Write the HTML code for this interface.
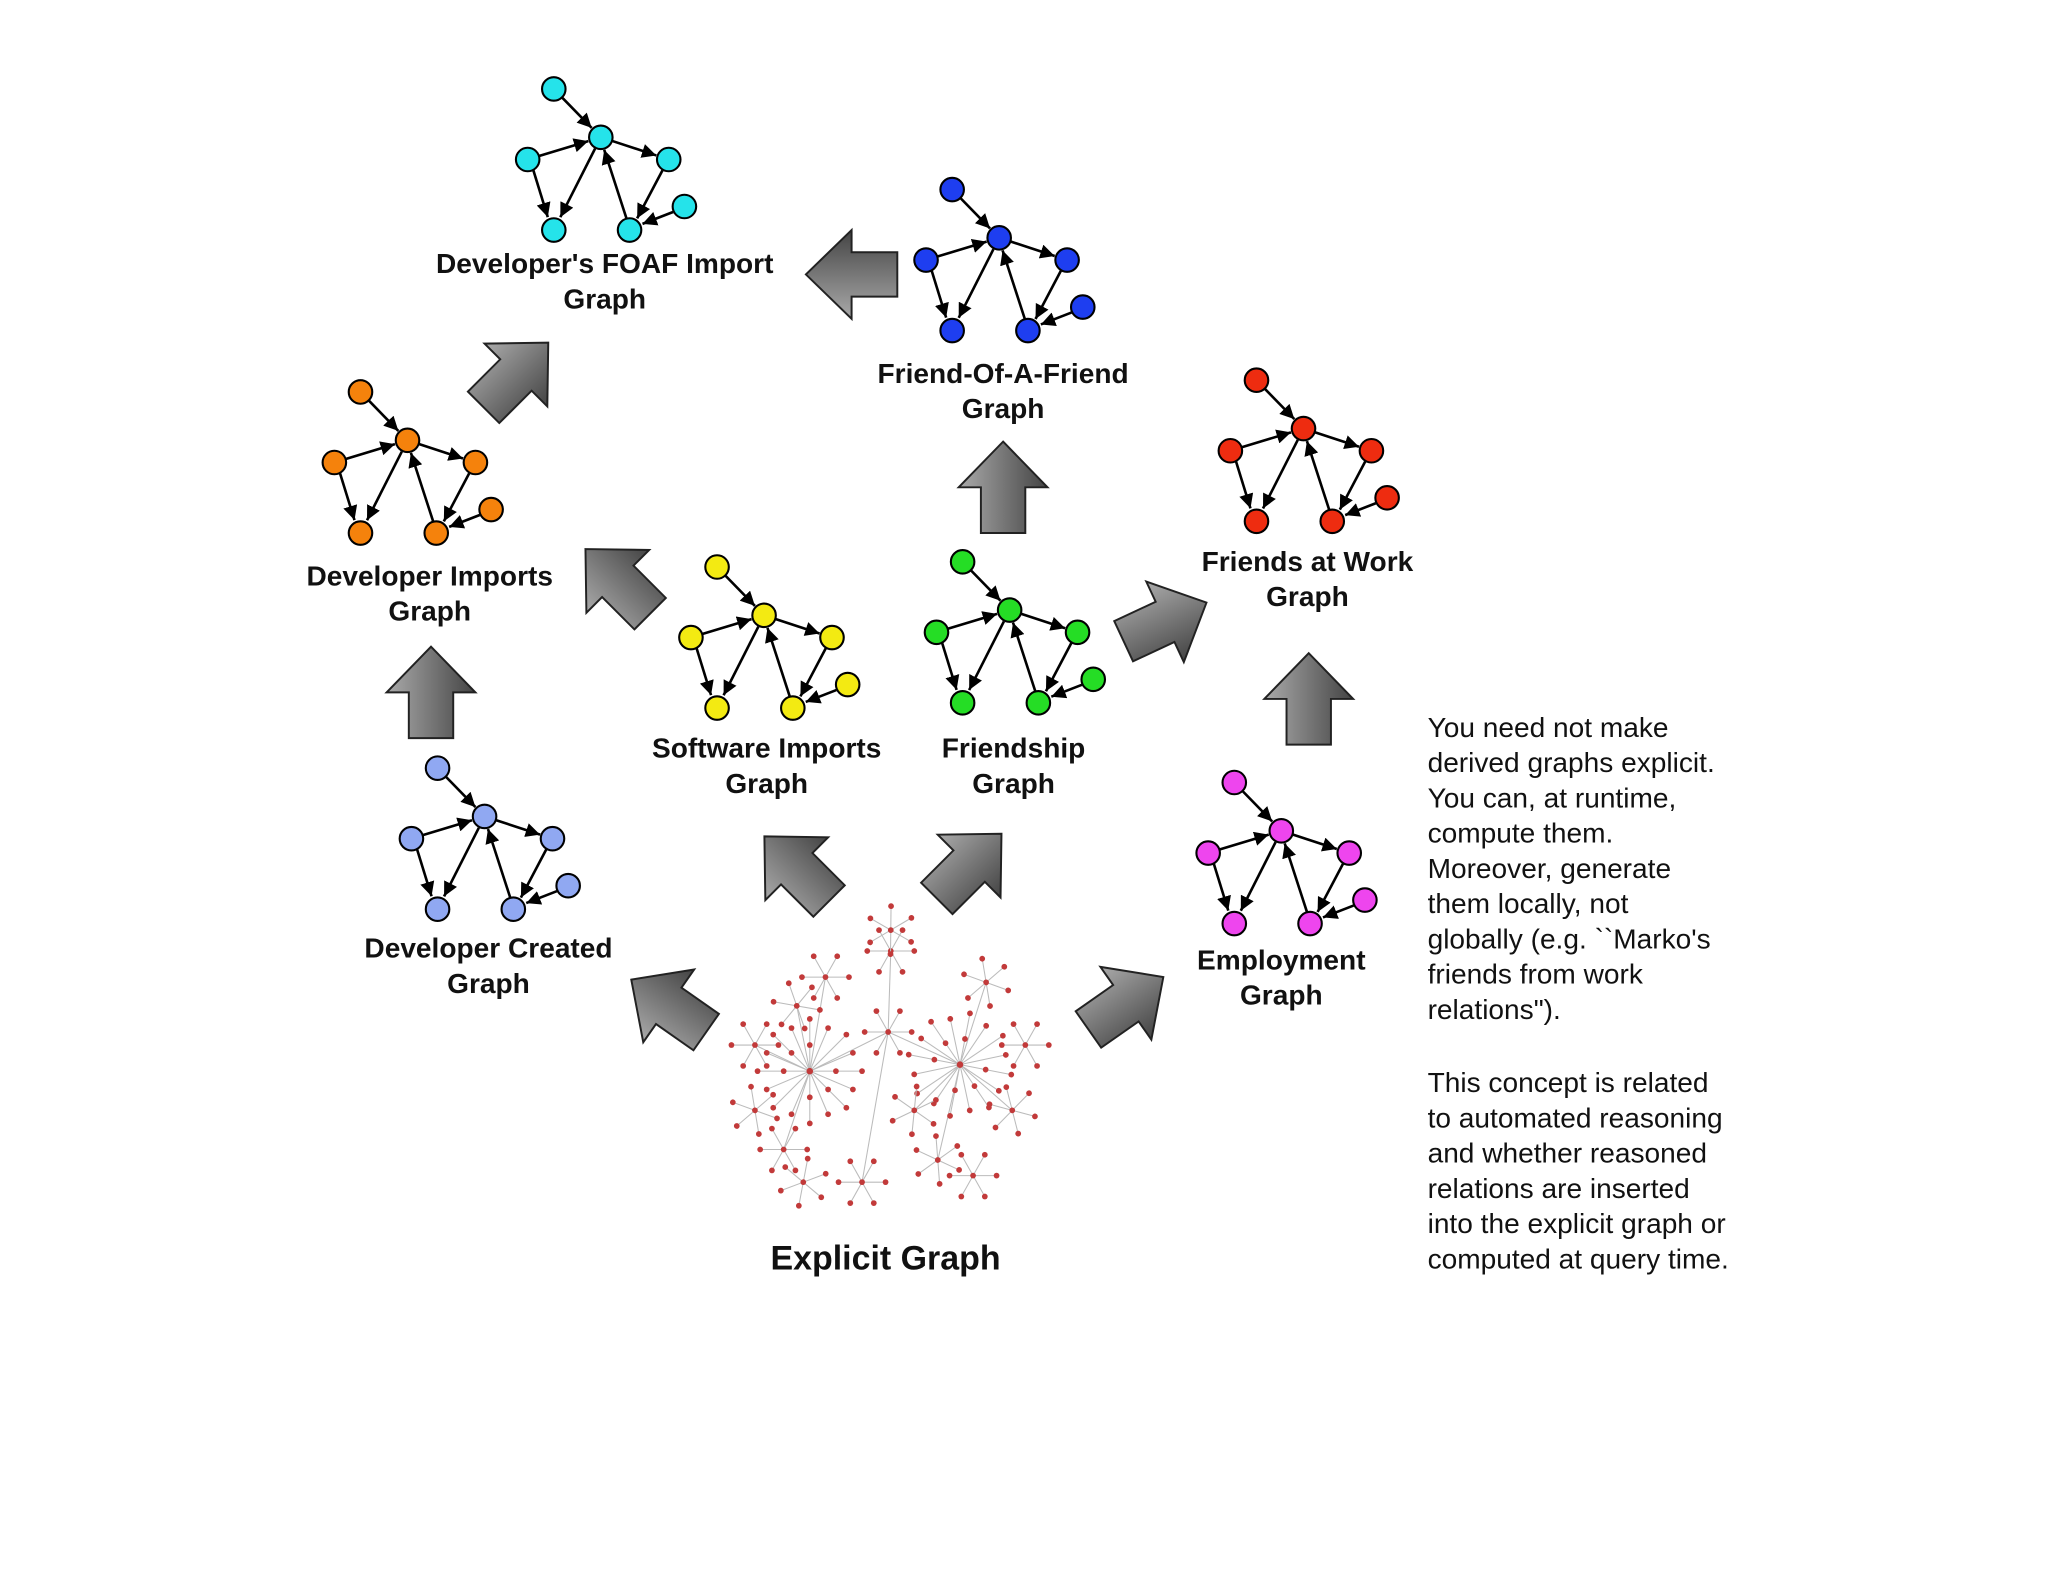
<!DOCTYPE html>
<html><head><meta charset="utf-8"><style>
html,body{margin:0;padding:0;background:#fff}
svg{display:block}
text{font-family:"Liberation Sans",Arial,sans-serif}
</style></head><body>
<svg width="2048" height="1582" viewBox="0 0 1568 1211" xmlns="http://www.w3.org/2000/svg">
<defs>
<marker id="ah" viewBox="0 0 10 10" refX="10" refY="5" markerWidth="5.5" markerHeight="5.5" orient="auto"><path d="M0,0 L10,5 L0,10 z" fill="#000"/></marker>
<linearGradient id="gg" x1="0" y1="0" x2="1" y2="0"><stop offset="0" stop-color="#aaa"/><stop offset="0.5" stop-color="#777"/><stop offset="1" stop-color="#444"/></linearGradient>
<g id="arr"><path d="M0,-35 L34,0 L17,0 L17,35 L-17,35 L-17,0 L-34,0 Z" fill="url(#gg)" stroke="#222" stroke-width="1.5"/></g>
<g id="sg">
<g stroke="#000" stroke-width="2" marker-end="url(#ah)">
<line x1="-29.7" y1="-30.5" x2="-7" y2="-7.2"/>
<line x1="-47.3" y1="14.3" x2="-9.6" y2="2.9"/>
<line x1="8.7" y1="2.8" x2="42.5" y2="13.9"/>
<line x1="-4.4" y1="8.7" x2="-31" y2="61.2"/>
<line x1="-51.7" y1="25.1" x2="-40.6" y2="61.1"/>
<line x1="19.7" y1="62.3" x2="2.6" y2="9.6"/>
<line x1="47.2" y1="25.3" x2="27.8" y2="62.1"/>
<line x1="55.3" y1="57.2" x2="31.9" y2="66.3"/>
</g>
<g stroke="#000" stroke-width="1.6">
<circle cx="-36" cy="-37" r="9"/><circle cx="0" cy="0" r="9"/><circle cx="-56" cy="17" r="9"/><circle cx="52" cy="17" r="9"/><circle cx="-36" cy="71" r="9"/><circle cx="22" cy="71" r="9"/><circle cx="64" cy="53" r="9"/>
</g>
</g>
<g id="bs">
<g stroke="#bbb" stroke-width="0.8">
<line x1="0" y1="0" x2="40" y2="0"/><line x1="0" y1="0" x2="33" y2="14"/><line x1="0" y1="0" x2="28" y2="28"/><line x1="0" y1="0" x2="14" y2="33"/><line x1="0" y1="0" x2="0" y2="40"/><line x1="0" y1="0" x2="-14" y2="33"/><line x1="0" y1="0" x2="-28" y2="28"/><line x1="0" y1="0" x2="-33" y2="14"/><line x1="0" y1="0" x2="-40" y2="0"/><line x1="0" y1="0" x2="-33" y2="-14"/><line x1="0" y1="0" x2="-28" y2="-28"/><line x1="0" y1="0" x2="-14" y2="-33"/><line x1="0" y1="0" x2="0" y2="-40"/><line x1="0" y1="0" x2="14" y2="-33"/><line x1="0" y1="0" x2="28" y2="-28"/><line x1="0" y1="0" x2="33" y2="-14"/>
</g>
<g fill="#c23a3a">
<circle cx="40" cy="0" r="2.2"/><circle cx="33" cy="14" r="2.2"/><circle cx="28" cy="28" r="2.2"/><circle cx="14" cy="33" r="2.2"/><circle cx="0" cy="40" r="2.2"/><circle cx="-14" cy="33" r="2.2"/><circle cx="-28" cy="28" r="2.2"/><circle cx="-33" cy="14" r="2.2"/><circle cx="-40" cy="0" r="2.2"/><circle cx="-33" cy="-14" r="2.2"/><circle cx="-28" cy="-28" r="2.2"/><circle cx="-14" cy="-33" r="2.2"/><circle cx="0" cy="-40" r="2.2"/><circle cx="14" cy="-33" r="2.2"/><circle cx="28" cy="-28" r="2.2"/><circle cx="33" cy="-14" r="2.2"/>
<circle cx="20" cy="0" r="2.2"/><circle cx="0" cy="20" r="2.2"/><circle cx="-20" cy="0" r="2.2"/><circle cx="0" cy="-20" r="2.2"/><circle cx="14" cy="14" r="2.2"/><circle cx="-14" cy="-14" r="2.2"/><circle cx="0" cy="0" r="2.5"/>
</g>
</g>
<g id="ss">
<g stroke="#bbb" stroke-width="0.8">
<line x1="0" y1="0" x2="18" y2="0"/><line x1="0" y1="0" x2="9" y2="16"/><line x1="0" y1="0" x2="-9" y2="16"/><line x1="0" y1="0" x2="-18" y2="0"/><line x1="0" y1="0" x2="-9" y2="-16"/><line x1="0" y1="0" x2="9" y2="-16"/>
</g>
<g fill="#c23a3a">
<circle cx="18" cy="0" r="2.2"/><circle cx="9" cy="16" r="2.2"/><circle cx="-9" cy="16" r="2.2"/><circle cx="-18" cy="0" r="2.2"/><circle cx="-9" cy="-16" r="2.2"/><circle cx="9" cy="-16" r="2.2"/><circle cx="0" cy="0" r="2.2"/>
</g>
</g>
</defs>
<rect width="1568" height="1211" fill="#fff"/>
<use href="#sg" transform="translate(460,105)" fill="#25e3ea"/>
<use href="#sg" transform="translate(765,182)" fill="#1e3ef0"/>
<use href="#sg" transform="translate(312,337)" fill="#f5820c"/>
<use href="#sg" transform="translate(585,471)" fill="#f3ea12"/>
<use href="#sg" transform="translate(773,467)" fill="#25dd25"/>
<use href="#sg" transform="translate(998,328)" fill="#ee2c10"/>
<use href="#sg" transform="translate(371,625)" fill="#90a8f2"/>
<use href="#sg" transform="translate(981,636)" fill="#ee45ee"/>
<g stroke="#bbb" stroke-width="0.8">
<line x1="620" y1="820" x2="680" y2="790"/><line x1="735" y1="815" x2="680" y2="790"/><line x1="680" y1="790" x2="682" y2="728"/><line x1="620" y1="820" x2="600" y2="880"/><line x1="735" y1="815" x2="718" y2="888"/><line x1="620" y1="820" x2="632" y2="748"/><line x1="735" y1="815" x2="755" y2="752"/><line x1="620" y1="820" x2="578" y2="800"/><line x1="735" y1="815" x2="775" y2="850"/><line x1="680" y1="790" x2="660" y2="905"/><line x1="620" y1="820" x2="610" y2="770"/><line x1="735" y1="815" x2="700" y2="850"/>
</g>
<use href="#bs" transform="translate(620,820)"/>
<use href="#bs" transform="translate(735,815) rotate(11)"/>
<use href="#ss" transform="translate(680,790)"/>
<use href="#ss" transform="translate(682,728)"/>
<use href="#ss" transform="translate(682,712) rotate(30)"/>
<use href="#ss" transform="translate(632,748)"/>
<use href="#ss" transform="translate(755,752) rotate(20)"/>
<use href="#ss" transform="translate(600,880)"/>
<use href="#ss" transform="translate(718,888) rotate(25)"/>
<use href="#ss" transform="translate(578,800)"/>
<use href="#ss" transform="translate(775,850) rotate(15)"/>
<use href="#ss" transform="translate(660,905)"/>
<use href="#ss" transform="translate(700,850) rotate(35)"/>
<use href="#ss" transform="translate(610,770) rotate(10)"/>
<use href="#ss" transform="translate(615,905) rotate(40)"/>
<use href="#ss" transform="translate(745,900)"/>
<use href="#ss" transform="translate(578,850) rotate(20)"/>
<use href="#ss" transform="translate(785,800)"/>
<g font-weight="bold" font-size="21.5" text-anchor="middle" fill="#111">
<text x="463" y="209">Developer's FOAF Import</text><text x="463" y="236">Graph</text>
<text x="768" y="293">Friend-Of-A-Friend</text><text x="768" y="320">Graph</text>
<text x="1001" y="437">Friends at Work</text><text x="1001" y="464">Graph</text>
<text x="329" y="448">Developer Imports</text><text x="329" y="475">Graph</text>
<text x="587" y="580">Software Imports</text><text x="587" y="607">Graph</text>
<text x="776" y="580">Friendship</text><text x="776" y="607">Graph</text>
<text x="374" y="733">Developer Created</text><text x="374" y="760">Graph</text>
<text x="981" y="742">Employment</text><text x="981" y="769">Graph</text>
<text x="678" y="972" font-size="26">Explicit Graph</text>
</g>
<g font-size="21.5" fill="#111">
<text x="1093" y="564">You need not make</text>
<text x="1093" y="591">derived graphs explicit.</text>
<text x="1093" y="618">You can, at runtime,</text>
<text x="1093" y="645">compute them.</text>
<text x="1093" y="672">Moreover, generate</text>
<text x="1093" y="699">them locally, not</text>
<text x="1093" y="726">globally (e.g. ``Marko's</text>
<text x="1093" y="753">friends from work</text>
<text x="1093" y="780">relations").</text>
<text x="1093" y="836">This concept is related</text>
<text x="1093" y="863">to automated reasoning</text>
<text x="1093" y="890">and whether reasoned</text>
<text x="1093" y="917">relations are inserted</text>
<text x="1093" y="944">into the explicit graph or</text>
<text x="1093" y="971">computed at query time.</text>
</g>
<use href="#arr" transform="translate(652,210) rotate(-90)"/>
<use href="#arr" transform="translate(395,287) rotate(45)"/>
<use href="#arr" transform="translate(768,373)"/>
<use href="#arr" transform="translate(473,445) rotate(-45)"/>
<use href="#arr" transform="translate(892,476) rotate(65)"/>
<use href="#arr" transform="translate(1002,535)"/>
<use href="#arr" transform="translate(330,530)"/>
<use href="#arr" transform="translate(610,665) rotate(-45)"/>
<use href="#arr" transform="translate(742,663) rotate(45)"/>
<use href="#arr" transform="translate(512,770) rotate(-55)"/>
<use href="#arr" transform="translate(862,768) rotate(55)"/>
</svg>
</body></html>
